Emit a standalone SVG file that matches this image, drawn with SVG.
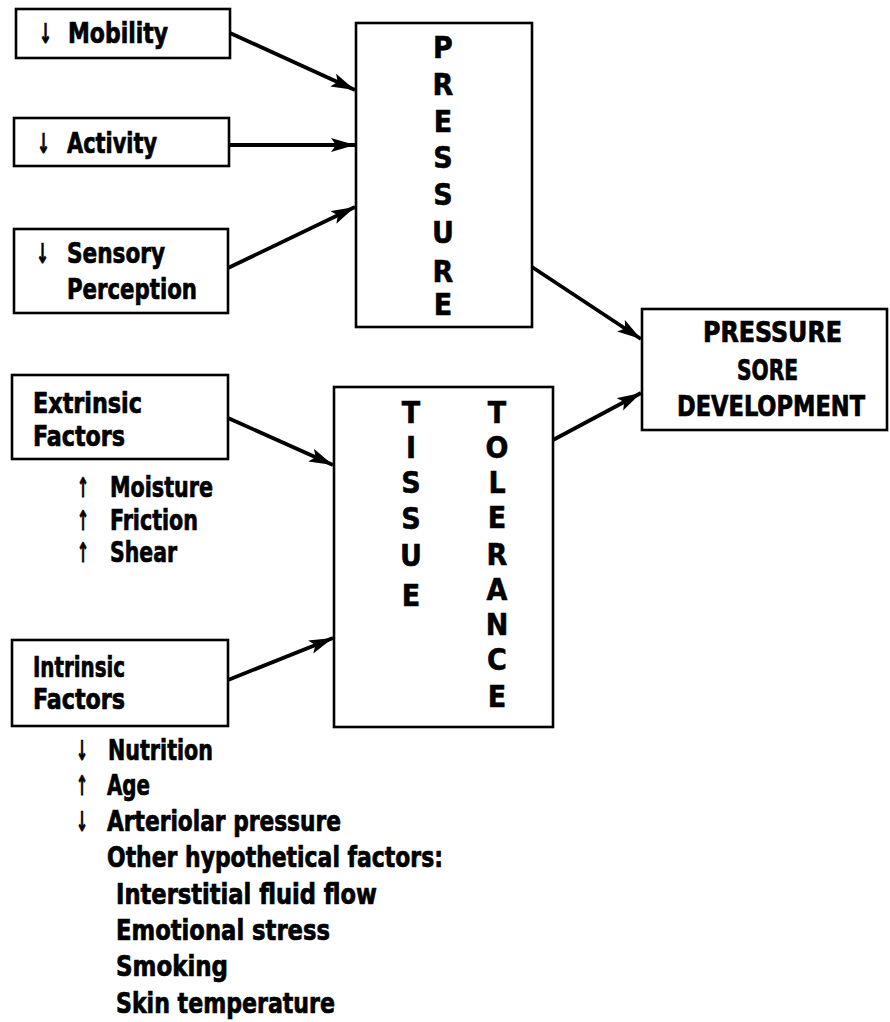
<svg xmlns="http://www.w3.org/2000/svg" width="890" height="1022" viewBox="0 0 890 1022">
<defs>
<style>
.box{fill:none;stroke:#000;stroke-width:2.6}
.t{font-family:"DejaVu Sans Condensed","DejaVu Sans","Liberation Sans",sans-serif;font-weight:bold;font-size:29px;fill:#000;stroke:#000;stroke-width:0.7}
.v{font-family:"DejaVu Sans Condensed","DejaVu Sans","Liberation Sans",sans-serif;font-weight:bold;font-size:30px;fill:#000;text-anchor:middle;stroke:#000;stroke-width:0.5}
.c{font-family:"DejaVu Sans Condensed","DejaVu Sans","Liberation Sans",sans-serif;font-weight:bold;font-size:28px;fill:#000;stroke:#000;stroke-width:0.7}
.ar{font-family:"DejaVu Sans","Liberation Sans",sans-serif;font-weight:bold;font-size:27px;fill:#000;stroke:#000;stroke-width:0.8}
.con{stroke:#000;stroke-width:3.8;fill:none;marker-end:url(#ah)}
</style>
<marker id="ah" markerUnits="userSpaceOnUse" markerWidth="26" markerHeight="16" refX="24" refY="7" orient="auto">
<path d="M0,0 L24,7 L0,14 L5,7 Z" fill="#000"/>
</marker>
</defs>
<rect width="890" height="1022" fill="#fff"/>
<g id="mobility">
<rect class="box" x="16" y="9" width="214" height="49"/>
<text class="ar" x="39" y="43" textLength="13" lengthAdjust="spacingAndGlyphs">↓</text>
<text class="t" x="68" y="43" textLength="100" lengthAdjust="spacingAndGlyphs">Mobility</text>
</g>
<g id="activity">
<rect class="box" x="14" y="118" width="215" height="48"/>
<text class="ar" x="37" y="153" textLength="13" lengthAdjust="spacingAndGlyphs">↓</text>
<text class="t" x="67" y="153" textLength="90" lengthAdjust="spacingAndGlyphs">Activity</text>
</g>
<g id="sensory">
<rect class="box" x="14" y="229" width="214" height="84"/>
<text class="ar" x="36" y="263" textLength="13" lengthAdjust="spacingAndGlyphs">↓</text>
<text class="t" x="67" y="263" textLength="98" lengthAdjust="spacingAndGlyphs">Sensory</text>
<text class="t" x="67" y="299" textLength="130" lengthAdjust="spacingAndGlyphs">Perception</text>
</g>
<g id="pressure">
<rect class="box" x="356" y="23" width="176" height="304"/>
<text class="v" x="443" y="58">P</text>
<text class="v" x="443" y="95">R</text>
<text class="v" x="443" y="132">E</text>
<text class="v" x="443" y="168">S</text>
<text class="v" x="443" y="205">S</text>
<text class="v" x="443" y="243">U</text>
<text class="v" x="443" y="282">R</text>
<text class="v" x="443" y="315">E</text>
</g>
<g id="psd">
<rect class="box" x="642" y="309" width="245" height="121"/>
<text class="c" x="703" y="342" textLength="139" lengthAdjust="spacingAndGlyphs">PRESSURE</text>
<text class="c" x="737" y="380" textLength="61" lengthAdjust="spacingAndGlyphs">SORE</text>
<text class="c" x="677" y="416" textLength="188" lengthAdjust="spacingAndGlyphs">DEVELOPMENT</text>
</g>
<g id="extrinsic">
<rect class="box" x="12" y="375" width="216" height="84"/>
<text class="t" x="33" y="413" textLength="109" lengthAdjust="spacingAndGlyphs">Extrinsic</text>
<text class="t" x="33" y="446" textLength="92" lengthAdjust="spacingAndGlyphs">Factors</text>
<text class="ar" x="77" y="497" textLength="12" lengthAdjust="spacingAndGlyphs">↑</text>
<text class="t" x="110" y="497" textLength="103" lengthAdjust="spacingAndGlyphs">Moisture</text>
<text class="ar" x="77" y="530" textLength="12" lengthAdjust="spacingAndGlyphs">↑</text>
<text class="t" x="110" y="530" textLength="88" lengthAdjust="spacingAndGlyphs">Friction</text>
<text class="ar" x="77" y="562" textLength="12" lengthAdjust="spacingAndGlyphs">↑</text>
<text class="t" x="110" y="562" textLength="67" lengthAdjust="spacingAndGlyphs">Shear</text>
</g>
<g id="tissue">
<rect class="box" x="334" y="387" width="219" height="340"/>
<text class="v" x="411" y="423">T</text>
<text class="v" x="411" y="458">I</text>
<text class="v" x="411" y="493">S</text>
<text class="v" x="411" y="529">S</text>
<text class="v" x="411" y="566">U</text>
<text class="v" x="411" y="606">E</text>
<text class="v" x="497" y="423">T</text>
<text class="v" x="497" y="458">O</text>
<text class="v" x="497" y="493">L</text>
<text class="v" x="497" y="528">E</text>
<text class="v" x="497" y="565">R</text>
<text class="v" x="497" y="600">A</text>
<text class="v" x="497" y="635">N</text>
<text class="v" x="497" y="670">C</text>
<text class="v" x="497" y="707">E</text>
</g>
<g id="intrinsic">
<rect class="box" x="12" y="640" width="216" height="86"/>
<text class="t" x="33" y="677" textLength="92" lengthAdjust="spacingAndGlyphs">Intrinsic</text>
<text class="t" x="33" y="709" textLength="92" lengthAdjust="spacingAndGlyphs">Factors</text>
<text class="ar" x="76" y="760" textLength="12" lengthAdjust="spacingAndGlyphs">↓</text>
<text class="t" x="108" y="760" textLength="105" lengthAdjust="spacingAndGlyphs">Nutrition</text>
<text class="ar" x="76" y="795" textLength="12" lengthAdjust="spacingAndGlyphs">↑</text>
<text class="t" x="107" y="795" textLength="43" lengthAdjust="spacingAndGlyphs">Age</text>
<text class="ar" x="76" y="831" textLength="12" lengthAdjust="spacingAndGlyphs">↓</text>
<text class="t" x="107" y="831" textLength="234" lengthAdjust="spacingAndGlyphs">Arteriolar pressure</text>
<text class="t" x="107" y="867" textLength="336" lengthAdjust="spacingAndGlyphs">Other hypothetical factors:</text>
<text class="t" x="116" y="904" textLength="261" lengthAdjust="spacingAndGlyphs">Interstitial fluid flow</text>
<text class="t" x="116" y="940" textLength="214" lengthAdjust="spacingAndGlyphs">Emotional stress</text>
<text class="t" x="116" y="976" textLength="112" lengthAdjust="spacingAndGlyphs">Smoking</text>
<text class="t" x="116" y="1013" textLength="219" lengthAdjust="spacingAndGlyphs">Skin temperature</text>
</g>
<g id="connectors">
<line class="con" x1="230" y1="33" x2="355" y2="90"/>
<line class="con" x1="229" y1="145" x2="355" y2="145"/>
<line class="con" x1="228" y1="268" x2="355" y2="207"/>
<line class="con" x1="532" y1="267" x2="641" y2="339"/>
<line class="con" x1="228" y1="418" x2="333" y2="465"/>
<line class="con" x1="228" y1="680" x2="333" y2="638"/>
<line class="con" x1="553" y1="440" x2="641" y2="393"/>
</g>
</svg>
